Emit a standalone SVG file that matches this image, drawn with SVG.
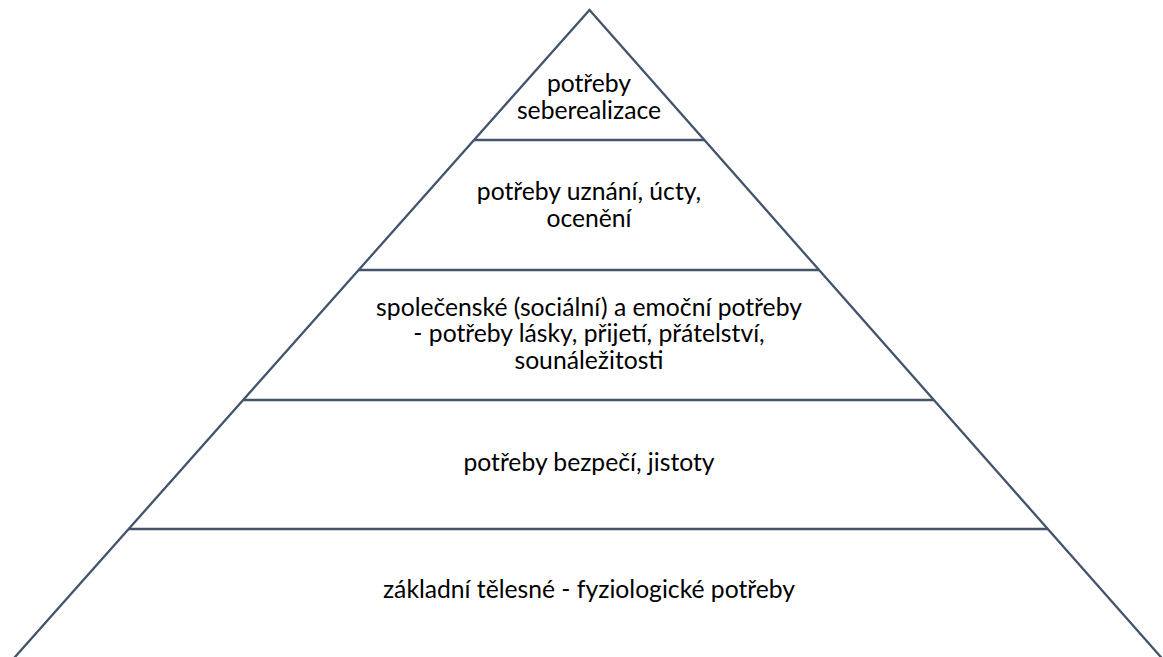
<svg xmlns="http://www.w3.org/2000/svg" width="1163" height="657" viewBox="0 0 1163 657">
<style>
.ln{stroke:#44546A;stroke-width:2.3;fill:none;stroke-linecap:butt;stroke-linejoin:miter}
.t{font-family:Lato,"Liberation Sans",sans-serif;font-size:24.7px;fill:#000;text-anchor:middle}
</style>
<rect width="1163" height="657" fill="#fff"/>
<g id="pyramid-outline">
<path class="ln" d="M7.9,665 L589.5,10 L1167.9,665"/>
</g>
<g id="tier-5">
<text class="t" x="589" y="92">potřeby</text>
<text class="t" x="589" y="118.5">seberealizace</text>
</g>
<g id="tier-4">
<line class="ln" x1="474.1" y1="140" x2="704.3" y2="140"/>
<text class="t" x="589" y="199.5">potřeby uznání, úcty,</text>
<text class="t" x="589" y="227">ocenění</text>
</g>
<g id="tier-3">
<line class="ln" x1="358.6" y1="270" x2="819.1" y2="270"/>
<text class="t" x="589" y="315.5">společenské (sociální) a emoční potřeby</text>
<text class="t" x="589" y="342">- potřeby lásky, přijetí, přátelství,</text>
<text class="t" x="589" y="368.5">sounáležitosti</text>
</g>
<g id="tier-2">
<line class="ln" x1="243.2" y1="400" x2="933.9" y2="400"/>
<text class="t" x="589" y="471">potřeby bezpečí, jistoty</text>
</g>
<g id="tier-1">
<line class="ln" x1="128.6" y1="529" x2="1047.8" y2="529"/>
<text class="t" x="589" y="598">základní tělesné - fyziologické potřeby</text>
</g>
<g id="connectors"/>
</svg>
